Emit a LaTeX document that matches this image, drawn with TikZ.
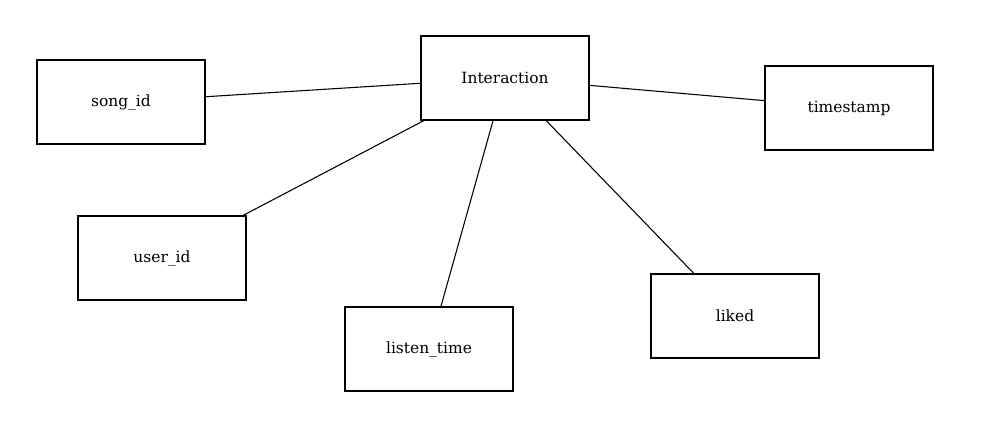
\documentclass[tikz,border=0pt]{standalone}
\usepackage{fontspec}
\setmainfont{DejaVu Serif}
\usepackage{tikz}

\begin{document}
\begin{tikzpicture}[x=0.75pt,y=-0.75pt,
  field/.style={draw,thick,minimum width=126pt,minimum height=63pt,inner sep=0pt,font=\fontsize{11.6}{14}\selectfont}]
\useasboundingbox (0,0) rectangle (995,437);
\node[field] (interaction) at (505,78) {Interaction};
\node[field] (songid) at (121,102) {song\_id};
\node[field] (timestamp) at (849,108) {timestamp};
\node[field] (userid) at (162,258) {user\_id};
\node[field] (listentime) at (429,349) {listen\_time};
\node[field] (liked) at (735,316) {liked};
\draw[thick] (interaction) -- (songid);
\draw[thick] (interaction) -- (timestamp);
\draw[thick] (interaction) -- (userid);
\draw[thick] (interaction) -- (listentime);
\draw[thick] (interaction) -- (liked);
\end{tikzpicture}
\end{document}
